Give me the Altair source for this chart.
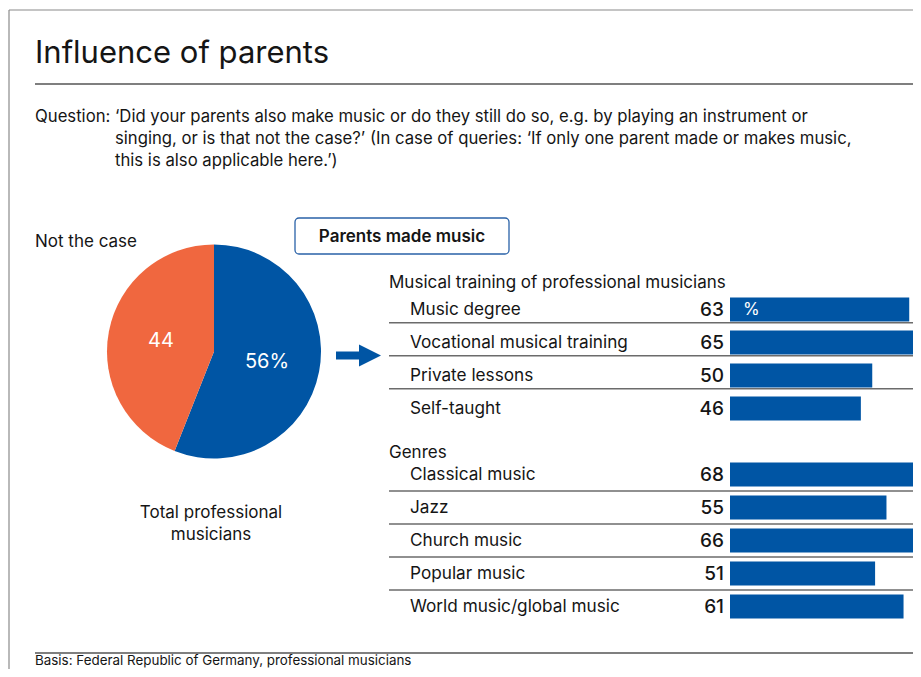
import altair as alt
import pandas as pd

# ---------------- data ----------------
title_text = "Influence of parents"
question_label = "Question:"
question_lines = [
    "\u2018Did your parents also make music or do they still do so, e.g. by playing an instrument or",
    "singing, or is that not the case?\u2019 (In case of queries: \u2018If only one parent made or makes music,",
    "this is also applicable here.\u2019)",
]
pie_categories = ["Parents made music", "Not the case"]
pie_values = [56, 44]
pie_labels = ["56%", "44"]
pie_caption = ["Total professional", "musicians"]
section_titles = ["Musical training of professional musicians", "Genres"]
training_items = ["Music degree", "Vocational musical training", "Private lessons", "Self-taught"]
training_values = [63, 65, 50, 46]
genre_items = ["Classical music", "Jazz", "Church music", "Popular music", "World music/global music"]
genre_values = [68, 55, 66, 51, 61]
unit_label = "%"
basis_text = "Basis: Federal Republic of Germany, professional musicians"

# ---------------- style ----------------
FONT = "Inter"
BLUE = "#0055A4"
ORANGE = "#F0673F"
INK = "#151515"
W, H = 905, 661
BODY = 17

# ---------------- tables ----------------
rows = []
for i, (lab, v) in enumerate(zip(training_items, training_values)):
    rows.append({"row": i, "label": lab, "value": v, "section": 0, "last": i == len(training_items) - 1})
offset = len(training_items) + 1
for j, (lab, v) in enumerate(zip(genre_items, genre_values)):
    rows.append({"row": offset + j, "label": lab, "value": v, "section": 1, "last": j == len(genre_items) - 1})
bars = pd.DataFrame(rows)
bars["zero"] = 0
bars["lo"] = bars["row"] - 0.3636
bars["hi"] = bars["row"] + 0.3636
seps = bars[~bars["last"]].copy()
seps["pos"] = seps["row"] + seps["section"].map({0: 0.4, 1: 0.5})

pie = pd.DataFrame({"category": pie_categories, "value": pie_values,
                    "label": pie_labels, "idx": list(range(len(pie_values)))})

ys = alt.Scale(domain=[0, 10], range=[301.5, 631.5], nice=False, zero=False)
xs = alt.Scale(domain=[0, 100], range=[722, 1006.5], nice=False, zero=False)

one = pd.DataFrame({"a": [0]})


def txt(s, x, y, size=BODY, align="left", weight="normal", color=INK, baseline="alphabetic"):
    return alt.Chart(pd.DataFrame({"t": [s]})).mark_text(
        align=align, baseline=baseline, fontSize=size, fontWeight=weight,
        color=color, font=FONT).encode(x=alt.value(x), y=alt.value(y), text="t:N")


def hrule(x1, x2, y, color="#666", w=1.5):
    return alt.Chart(one).mark_rule(color=color, strokeWidth=w).encode(
        x=alt.value(x1), x2=alt.value(x2), y=alt.value(y))


layers = []
# frame
layers.append(alt.Chart(one).mark_rule(color="#8a8a8a", strokeWidth=1.2).encode(
    x=alt.value(1), y=alt.value(2), y2=alt.value(H + 5)))
layers.append(hrule(1, W + 5, 2, "#8a8a8a", 1.2))
# title
layers.append(txt(title_text, 27, 55, size=31))
layers.append(hrule(27, W + 5, 76, "#555", 1.5))
# question
layers.append(txt(question_label, 27, 114, size=16.7))
for k, line in enumerate(question_lines):
    layers.append(txt(line, 107, 114 + 22 * k, size=16.7))

# pie
layers.append(alt.Chart(pie).mark_arc(outerRadius=107).encode(
    theta=alt.Theta("value:Q", stack=True),
    color=alt.Color("category:N", scale=alt.Scale(domain=pie_categories, range=[BLUE, ORANGE]), legend=None),
    order=alt.Order("idx:Q"),
    x=alt.value(206), y=alt.value(343.5)))
layers.append(alt.Chart(pie).mark_text(radius=54, fontSize=20, color="white", font=FONT).encode(
    theta=alt.Theta("value:Q", stack=True),
    order=alt.Order("idx:Q"),
    text="label:N",
    x=alt.value(206), y=alt.value(343.5)))
layers.append(txt(pie_categories[1], 27, 239))
for k, line in enumerate(pie_caption):
    layers.append(txt(line, 203, 510 + 22 * k, align="center"))

# arrow
layers.append(alt.Chart(one).mark_rule(color=BLUE, strokeWidth=8).encode(
    x=alt.value(328), x2=alt.value(353), y=alt.value(347.5)))
layers.append(alt.Chart(one).mark_point(shape="M-1,-1L1,0L-1,1Z", filled=True, opacity=1,
                                         color=BLUE, size=484).encode(
    x=alt.value(362), y=alt.value(347.5)))

# box
layers.append(alt.Chart(one).mark_rect(fill="white", stroke="#2a62a8", strokeWidth=1.3, cornerRadius=4).encode(
    x=alt.value(287), x2=alt.value(501), y=alt.value(210), y2=alt.value(246)))
layers.append(txt(pie_categories[0], 394, 229, size=17, align="center", weight=600, baseline="middle"))

# section titles
layers.append(txt(section_titles[0], 381, 280))
layers.append(txt(section_titles[1], 381, 450))

# separators
layers.append(alt.Chart(seps).mark_rule(color="#6b6b6b", strokeWidth=1.5).encode(
    x=alt.value(381), x2=alt.value(W + 5), y=alt.Y("pos:Q", scale=ys, axis=None)))
# bars
layers.append(alt.Chart(bars).mark_rect(color=BLUE).encode(
    x=alt.X("zero:Q", scale=xs, axis=None), x2="value:Q",
    y=alt.Y("lo:Q", scale=ys, axis=None), y2="hi:Q"))
# row labels
layers.append(alt.Chart(bars).mark_text(align="left", baseline="middle", fontSize=17.2, color=INK, font=FONT).encode(
    x=alt.value(402), y=alt.Y("row:Q", scale=ys, axis=None), text="label:N"))
# values
layers.append(alt.Chart(bars).mark_text(align="right", baseline="middle", fontSize=19, fontWeight=500,
                                        color=INK, font=FONT).encode(
    x=alt.value(716), y=alt.Y("row:Q", scale=ys, axis=None), text="value:Q"))
# unit
layers.append(alt.Chart(pd.DataFrame({"row": [0], "t": [unit_label]})).mark_text(
    align="left", baseline="middle", fontSize=17, color="white", font=FONT).encode(
    x=alt.value(735), y=alt.Y("row:Q", scale=ys, axis=None), text="t:N"))

# basis
layers.append(hrule(27, W + 5, 645, "#555", 1.3))
layers.append(txt(basis_text, 27, 657, size=13.4))

chart = alt.layer(*layers).properties(
    width=W, height=H, padding=0, autosize="none"
).configure_view(stroke=None)

chart.save("out.html", embed_options={"renderer": "svg", "actions": False})
